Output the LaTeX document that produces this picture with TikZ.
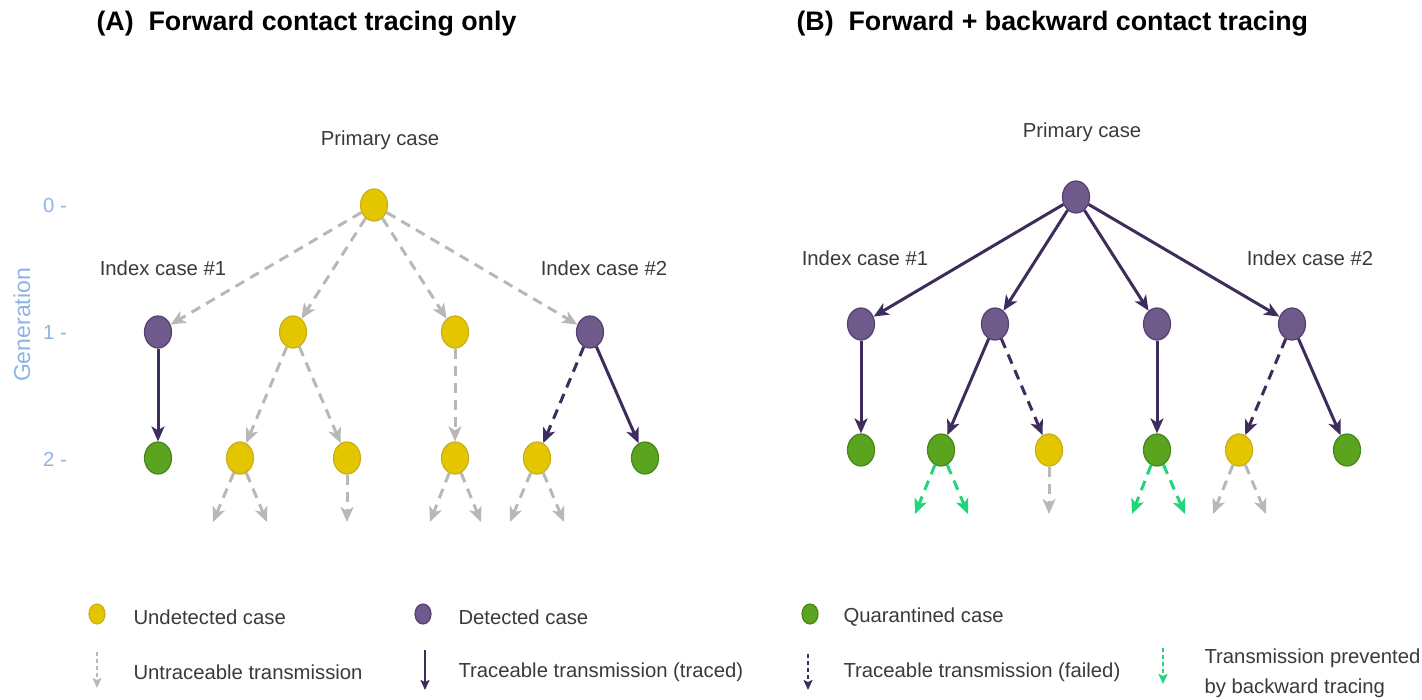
\documentclass[tikz,border=0pt]{standalone}
\usepackage{fontspec}
\setmainfont{Liberation Sans}
\usetikzlibrary{positioning,shapes.geometric,arrows.meta}
\definecolor{undetcol}{HTML}{E3C600}
\definecolor{undetline}{HTML}{C9AE1A}
\definecolor{detcol}{HTML}{6F5A8B}
\definecolor{detline}{HTML}{54416F}
\definecolor{quarcol}{HTML}{5BA41F}
\definecolor{quarline}{HTML}{44861A}
\definecolor{tracecol}{HTML}{3E2C5C}
\definecolor{untracecol}{HTML}{B8B8B8}
\definecolor{preventcol}{HTML}{22D47A}
\definecolor{gencol}{HTML}{8DB3E6}
\definecolor{labelcol}{HTML}{3A3A3A}
\begin{document}
\begin{tikzpicture}[x=1pt, y=-1pt, on grid, font=\fontsize{20.3}{24}\selectfont,
  case/.style = {draw, ellipse, line width=1.2pt, minimum width=27pt, minimum height=32pt, inner sep=0pt},
  undetected/.style = {case, fill=undetcol, draw=undetline},
  detected/.style = {case, fill=detcol, draw=detline},
  quarantined/.style = {case, fill=quarcol, draw=quarline},
  untrace/.style = {draw=untracecol, line width=3pt, dash pattern=on 10pt off 7pt, -{Stealth[length=15pt,width=13pt,inset=4pt]}},
  trace/.style = {draw=tracecol, line width=3pt, -{Stealth[length=15pt,width=13pt,inset=4pt]}},
  fail/.style = {trace, dash pattern=on 10pt off 7pt},
  prevent/.style = {untrace, draw=preventcol},
  legendarrow/.style = {line width=1.8pt, -{Stealth[length=10pt,width=9pt,inset=2pt]}, dash pattern=on 4pt off 3pt},
  lbl/.style = {text=labelcol}]
\useasboundingbox (0,0) rectangle (1422,700);

% titles
\node[anchor=west, font=\fontsize{26.8}{30}\selectfont\bfseries] (ta) at (93,24) {(A)\ \ Forward contact tracing only};
\node[anchor=west, font=\fontsize{26.8}{30}\selectfont\bfseries] (tb) at (793,24) {(B)\ \ Forward + backward contact tracing};

% generation axis
\node[text=gencol, rotate=90, font=\fontsize{23}{26}\selectfont] (gen) at (22,325) {Generation};
\node[text=gencol] (g0) at (55,206) {0 -};
\node[text=gencol] (g1) at (55,333) {1 -};
\node[text=gencol] (g2) at (55,459) {2 -};

% (A) forward only
\node[undetected] (a0) at (374,205) {};
\node[detected] (a1) [below left=127pt and 216pt of a0] {};
\node[undetected] (a2) [below left=127pt and 81pt of a0] {};
\node[undetected] (a3) [below right=127pt and 81pt of a0] {};
\node[detected] (a4) [below right=127pt and 216pt of a0] {};
\node[quarantined] (a5) [below=126pt of a1] {};
\node[undetected] (a6) [below left=126pt and 53pt of a2] {};
\node[undetected] (a7) [below right=126pt and 54pt of a2] {};
\node[undetected] (a8) [below=126pt of a3] {};
\node[undetected] (a9) [below left=126pt and 53pt of a4] {};
\node[quarantined] (a10) [below right=126pt and 55pt of a4] {};
\node[lbl] (pa) at (380,140) {Primary case};
\node[lbl] (ia1) at (163,268) {Index case \#1};
\node[lbl] (ia2) at (604,268) {Index case \#2};
\coordinate[below left=64pt and 27pt of a6] (s1);
\coordinate[below right=64pt and 27pt of a6] (s2);
\coordinate[below=64pt of a7] (s3);
\coordinate[below left=64pt and 25pt of a8] (s4);
\coordinate[below right=64pt and 26pt of a8] (s5);
\coordinate[below left=64pt and 27pt of a9] (s6);
\coordinate[below right=64pt and 27pt of a9] (s7);
\draw[untrace] (a0) -- (a1);
\draw[untrace] (a0) -- (a2);
\draw[untrace] (a0) -- (a3);
\draw[untrace] (a0) -- (a4);
\draw[trace] (a1) -- (a5);
\draw[untrace] (a2) -- (a6);
\draw[untrace] (a2) -- (a7);
\draw[untrace] (a3) -- (a8);
\draw[fail] (a4) -- (a9);
\draw[trace] (a4) -- (a10);
\draw[untrace] (a6) -- (s1);
\draw[untrace] (a6) -- (s2);
\draw[untrace] (a7) -- (s3);
\draw[untrace] (a8) -- (s4);
\draw[untrace] (a8) -- (s5);
\draw[untrace] (a9) -- (s6);
\draw[untrace] (a9) -- (s7);

% (B) forward + backward
\node[detected] (b0) at (1076,197) {};
\node[detected] (b1) [below left=127pt and 215pt of b0] {};
\node[detected] (b2) [below left=127pt and 81pt of b0] {};
\node[detected] (b3) [below right=127pt and 81pt of b0] {};
\node[detected] (b4) [below right=127pt and 216pt of b0] {};
\node[quarantined] (b5) [below=126pt of b1] {};
\node[quarantined] (b6) [below left=126pt and 54pt of b2] {};
\node[undetected] (b7) [below right=126pt and 54pt of b2] {};
\node[quarantined] (b8) [below=126pt of b3] {};
\node[undetected] (b9) [below left=126pt and 53pt of b4] {};
\node[quarantined] (b10) [below right=126pt and 55pt of b4] {};
\node[lbl] (pb) at (1082,132) {Primary case};
\node[lbl] (ib1) at (865,258) {Index case \#1};
\node[lbl] (ib2) at (1310,258) {Index case \#2};
\coordinate[below left=64pt and 26pt of b6] (t1);
\coordinate[below right=64pt and 27pt of b6] (t2);
\coordinate[below=64pt of b7] (t3);
\coordinate[below left=64pt and 25pt of b8] (t4);
\coordinate[below right=64pt and 28pt of b8] (t5);
\coordinate[below left=64pt and 26pt of b9] (t6);
\coordinate[below right=64pt and 27pt of b9] (t7);
\draw[trace] (b0) -- (b1);
\draw[trace] (b0) -- (b2);
\draw[trace] (b0) -- (b3);
\draw[trace] (b0) -- (b4);
\draw[trace] (b1) -- (b5);
\draw[trace] (b2) -- (b6);
\draw[fail] (b2) -- (b7);
\draw[trace] (b3) -- (b8);
\draw[fail] (b4) -- (b9);
\draw[trace] (b4) -- (b10);
\draw[prevent] (b6) -- (t1);
\draw[prevent] (b6) -- (t2);
\draw[untrace] (b7) -- (t3);
\draw[prevent] (b8) -- (t4);
\draw[prevent] (b8) -- (t5);
\draw[untrace] (b9) -- (t6);
\draw[untrace] (b9) -- (t7);

% legend
\node[undetected, minimum width=16pt, minimum height=20pt] (l1) at (97,614) {};
\node[lbl, anchor=west] (lt1) at (130,617) {Undetected case};
\node[detected, minimum width=16pt, minimum height=20pt] (l2) at (423,614) {};
\node[lbl, anchor=west] (lt2) at (455,617) {Detected case};
\node[quarantined, minimum width=16pt, minimum height=20pt] (l3) at (810,614) {};
\node[lbl, anchor=west] (lt3) at (840,617) {Quarantined case};
\coordinate (l4a) at (97,652);
\coordinate (l4b) at (97,688);
\draw[untrace, legendarrow] (l4a) -- (l4b);
\node[lbl, anchor=west] (lt4) at (130,672) {Untraceable transmission};
\coordinate (l5a) at (425,650);
\coordinate (l5b) at (425,690);
\draw[trace, legendarrow, solid] (l5a) -- (l5b);
\node[lbl, anchor=west] (lt5) at (455,672) {Traceable transmission (traced)};
\coordinate (l6a) at (808,654);
\coordinate (l6b) at (808,690);
\draw[fail, legendarrow] (l6a) -- (l6b);
\node[lbl, anchor=west] (lt6) at (840,672) {Traceable transmission (failed)};
\coordinate (l7a) at (1163,648);
\coordinate (l7b) at (1163,684);
\draw[prevent, legendarrow] (l7a) -- (l7b);
\node[lbl, anchor=west, align=left, font=\fontsize{20.3}{30}\selectfont] (lt7) at (1201,673) {Transmission prevented\\by backward tracing};
\end{tikzpicture}
\end{document}
